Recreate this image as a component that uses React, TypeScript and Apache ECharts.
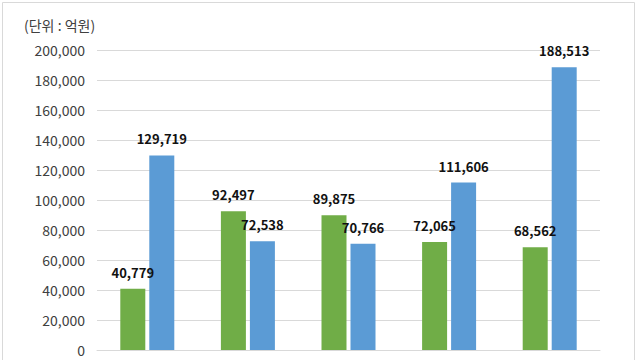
import React, { useEffect, useRef } from "react";
import * as echarts from "echarts";

const categories = ["A", "B", "C", "D", "E"];
const greenValues = [40779, 92497, 89875, 72065, 68562];
const blueValues = [129719, 72538, 70766, 111606, 188513];
const unitLabel = "(단위 : 억원)";

export default function App() {
  const ref = useRef<HTMLDivElement>(null);
  useEffect(() => {
    const chart = echarts.init(ref.current!, null, { renderer: "svg" });
    const fontFamily = "'Noto Sans CJK KR', 'Noto Sans', sans-serif";
    const label = {
      show: true,
      position: "top" as const,
      distance: 10,
      color: "#111",
      fontWeight: "bold" as const,
      fontSize: 13,
      fontFamily,
      formatter: (p: any) => Number(p.value).toLocaleString("en-US"),
    };
    chart.setOption({
      animation: false,
      backgroundColor: "#fff",
      textStyle: { fontFamily },
      graphic: [
        {
          type: "rect",
          shape: { x: 2.5, y: 2.5, width: 632, height: 370 },
          style: { fill: "none", stroke: "#d9d9d9", lineWidth: 1 },
          silent: true,
        },
        {
          type: "text",
          left: 24,
          top: 18,
          style: { text: unitLabel, fontSize: 14, fill: "#404040", fontFamily },
        },
      ],
      grid: { left: 97, right: 40, top: 50, bottom: 10, containLabel: false },
      xAxis: {
        type: "category",
        data: categories,
        axisLine: { show: true, lineStyle: { color: "#d9d9d9" } },
        axisTick: { show: false },
        axisLabel: { show: false },
      },
      yAxis: {
        type: "value",
        min: 0,
        max: 200000,
        interval: 20000,
        axisLine: { show: false },
        axisTick: { show: false },
        splitLine: { lineStyle: { color: "#d9d9d9" } },
        axisLabel: {
          color: "#404040",
          fontSize: 14,
          margin: 12,
          fontFamily,
          formatter: (v: number) => v.toLocaleString("en-US"),
        },
      },
      series: [
        {
          type: "bar",
          data: greenValues,
          itemStyle: { color: "#70ad47" },
          barWidth: 25,
          barGap: "16%",
          label,
        },
        {
          type: "bar",
          data: blueValues,
          itemStyle: { color: "#5b9bd5" },
          barWidth: 25,
          barGap: "16%",
          label,
        },
      ],
    });
    return () => chart.dispose();
  }, []);
  return <div ref={ref} style={{ width: 640, height: 360, position: "absolute", left: 0, top: 0 }} />;
}
